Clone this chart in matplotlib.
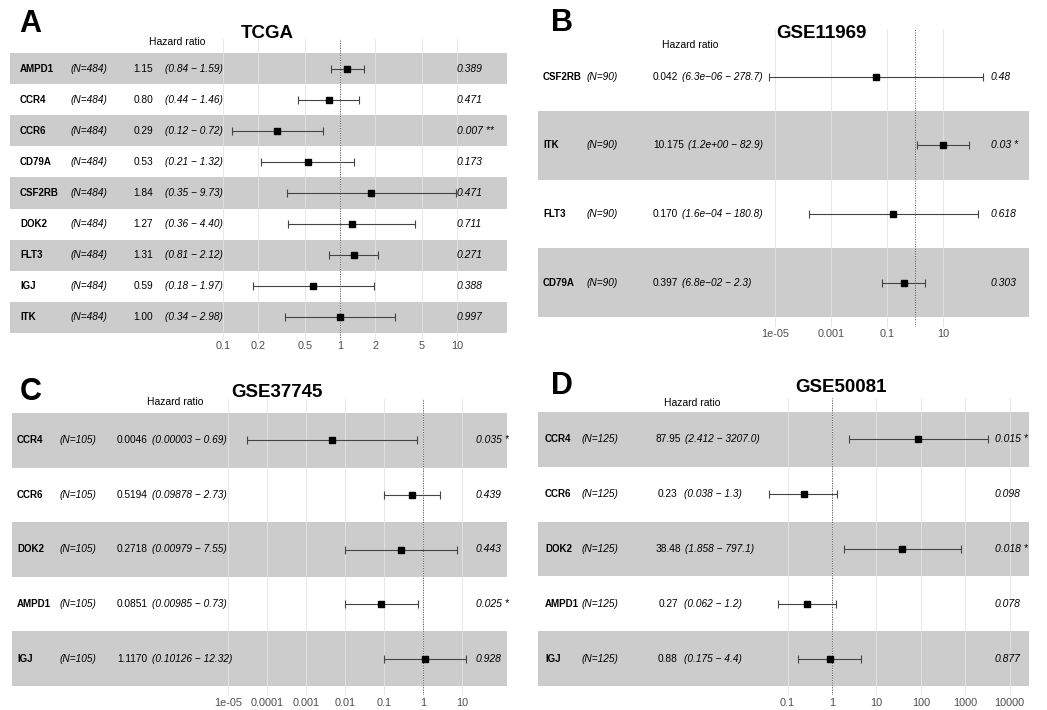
import numpy as np
import matplotlib
matplotlib.use('Agg')
import matplotlib.pyplot as plt
from matplotlib import transforms
from matplotlib.ticker import NullLocator

plt.rcParams['font.family'] = ['Liberation Sans', 'DejaVu Sans']
NARROW = ['Liberation Sans Narrow', 'Liberation Sans', 'DejaVu Sans']

# ---- data ----
# A: TCGA
tcga_genes = ['AMPD1', 'CCR4', 'CCR6', 'CD79A', 'CSF2RB', 'DOK2', 'FLT3', 'IGJ', 'ITK']
tcga_n = 484
tcga_hr = [1.15, 0.80, 0.29, 0.53, 1.84, 1.27, 1.31, 0.59, 1.00]
tcga_lo = [0.84, 0.44, 0.12, 0.21, 0.35, 0.36, 0.81, 0.18, 0.34]
tcga_hi = [1.59, 1.46, 0.72, 1.32, 9.73, 4.40, 2.12, 1.97, 2.98]
tcga_p = [0.389, 0.471, 0.007, 0.173, 0.471, 0.711, 0.271, 0.388, 0.997]
tcga_breaks = [0.1, 0.2, 0.5, 1, 2, 5, 10]
tcga_ticklabels = ['0.1', '0.2', '0.5', '1', '2', '5', '10']

# B: GSE11969
g11969_genes = ['CSF2RB', 'ITK', 'FLT3', 'CD79A']
g11969_n = 90
g11969_hr = [0.042, 10.175, 0.170, 0.397]
g11969_lo = [6.3e-06, 1.2e+00, 1.6e-04, 6.8e-02]
g11969_hi = [278.7, 82.9, 180.8, 2.3]
g11969_p = [0.48, 0.03, 0.618, 0.303]
g11969_breaks = [1e-05, 0.001, 0.1, 10]
g11969_ticklabels = ['1e-05', '0.001', '0.1', '10']

# C: GSE37745
g37745_genes = ['CCR4', 'CCR6', 'DOK2', 'AMPD1', 'IGJ']
g37745_n = 105
g37745_hr = [0.0046, 0.5194, 0.2718, 0.0851, 1.1170]
g37745_lo = [0.00003, 0.09878, 0.00979, 0.00985, 0.10126]
g37745_hi = [0.69, 2.73, 7.55, 0.73, 12.32]
g37745_p = [0.035, 0.439, 0.443, 0.025, 0.928]
g37745_breaks = [1e-05, 0.0001, 0.001, 0.01, 0.1, 1, 10]
g37745_ticklabels = ['1e-05', '0.0001', '0.001', '0.01', '0.1', '1', '10']

# D: GSE50081
g50081_genes = ['CCR4', 'CCR6', 'DOK2', 'AMPD1', 'IGJ']
g50081_n = 125
g50081_hr = [87.95, 0.23, 38.48, 0.27, 0.88]
g50081_lo = [2.412, 0.038, 1.858, 0.062, 0.175]
g50081_hi = [3207.0, 1.3, 797.1, 1.2, 4.4]
g50081_p = [0.015, 0.098, 0.018, 0.078, 0.877]
g50081_breaks = [0.1, 1, 10, 100, 1000, 10000]
g50081_ticklabels = ['0.1', '1', '10', '100', '1000', '10000']

W, H = 1047, 710
fig = plt.figure(figsize=(W / 100, H / 100), dpi=100)
renderer = fig.canvas.get_renderer()


def stars(p):
    if p < 0.001:
        return ' ***'
    if p < 0.01:
        return ' **'
    if p < 0.05:
        return ' *'
    return ''


def fmt_sci(v):
    return ('%.1e' % v).replace('-', '\u2212')


def forest(letter, title, genes, n, hr, lo, hi, p, breaks, ticklabels,
           hr_fmt, lo_fmt, hi_fmt, lay):
    bl, br, x1, ppd = lay['band_x']
    rt, rb, gt, gb = lay['rows_y']
    ax = fig.add_axes([bl / W, 1 - gb / H, (br - bl) / W, (gb - gt) / H])
    nrow = len(genes)
    h = (rb - rt) / nrow
    ax.set_xscale('log')
    ax.set_xlim(10 ** ((bl - x1) / ppd), 10 ** ((br - x1) / ppd))
    ax.set_ylim(nrow - 0.5 + (gb - rb) / h, -0.5 - (rt - gt) / h)
    for s in ax.spines.values():
        s.set_visible(False)
    ax.set_yticks([])
    ax.xaxis.set_minor_locator(NullLocator())
    ax.set_xticks(breaks, ticklabels)
    ax.tick_params(axis='x', length=0, labelsize=7.8, labelcolor='#4D4D4D',
                   pad=(lay['tick_y'] - gb - 5) * 0.72)
    ax.set_axisbelow(False)
    ax.grid(axis='x', color='#E3E3E3', lw=0.6, zorder=1.5)
    ax.patch.set_alpha(0)

    y = np.arange(nrow)
    for i in y:
        if (nrow - 1 - i) % 2 == 0:
            ax.axhspan(i - 0.5, i + 0.5, color='black', alpha=0.2, lw=0, zorder=1)
    ax.axvline(1, color='#555555', ls=(0, (1, 1.5)), lw=0.7, zorder=3)

    hr = np.array(hr)
    lo = np.array(lo)
    hi = np.array(hi)
    ax.errorbar(hr, y, xerr=[hr - lo, hi - hr], fmt='s', color='black',
                ecolor='#444444', elinewidth=0.8, capsize=2.6, capthick=0.8,
                markersize=4, zorder=4)

    tr = transforms.blended_transform_factory(ax.transAxes, ax.transData)

    def fx(px):
        return (px - bl) / (br - bl)

    gx, nx, hx, cx, px_ = lay['text_x']
    fs = 7.3
    for i, g in enumerate(genes):
        ax.text(fx(gx), i, g, transform=tr, fontsize=7, fontweight='bold',
                ha='left', va='center')
        ax.text(fx(nx), i, '(N=%d)' % n, transform=tr, fontsize=fs,
                style='italic', ha='left', va='center')
        t = ax.text(fx(hx), i, hr_fmt(hr[i]), transform=tr, fontsize=fs,
                    ha=lay['hr_ha'], va='center')
        # CI starts at its column, or just after a long estimate
        hr_right = t.get_window_extent(renderer).x1
        ci_px = max(cx, hr_right + 4)
        ci = '(%s \u2212 %s)' % (lo_fmt(lo[i]), hi_fmt(hi[i]))
        ax.text(fx(ci_px), i, ci, transform=tr, fontsize=fs, style='italic',
                ha='left', va='center')
        ax.text(fx(px_), i, format(p[i], '.3g') + stars(p[i]), transform=tr,
                fontsize=7.5, style='italic', ha='left', va='center')

    hx_, hy_ = lay['hr_label']
    fig.text(hx_ / W, 1 - hy_ / H, 'Hazard ratio', fontsize=7.5,
             ha='center', va='center')
    tx, ty = lay['title']
    fig.text(tx / W, 1 - ty / H, title, fontsize=13.5, fontweight='bold',
             family=NARROW, ha='center', va='center')
    lx, ly = lay['letter']
    fig.text(lx / W, 1 - ly / H, letter, fontsize=22, fontweight='bold',
             family=NARROW, ha='left', va='center')


forest('A', 'TCGA', tcga_genes, tcga_n, tcga_hr, tcga_lo, tcga_hi, tcga_p,
       tcga_breaks, tcga_ticklabels,
       lambda v: '%.2f' % v, lambda v: '%.2f' % v, lambda v: '%.2f' % v,
       dict(band_x=(10, 507, 340, 117), rows_y=(53, 333, 39, 340), tick_y=346,
            text_x=(20, 71, 143, 165, 457), hr_ha='center', hr_label=(177, 42),
            title=(267, 33), letter=(19, 24)))

forest('B', 'GSE11969', g11969_genes, g11969_n, g11969_hr, g11969_lo,
       g11969_hi, g11969_p, g11969_breaks, g11969_ticklabels,
       lambda v: '%.3f' % v, fmt_sci, lambda v: '%.1f' % v,
       dict(band_x=(538, 1029, 915, 28), rows_y=(42.5, 317, 29, 327), tick_y=334,
            text_x=(543, 587, 653, 674, 991), hr_ha='left', hr_label=(690, 45),
            title=(821, 33), letter=(551, 23)))

forest('C', 'GSE37745', g37745_genes, g37745_n, g37745_hr, g37745_lo,
       g37745_hi, g37745_p, g37745_breaks, g37745_ticklabels,
       lambda v: '%.4f' % v, lambda v: '%.5f' % v, lambda v: '%.2f' % v,
       dict(band_x=(12, 507, 423, 39), rows_y=(413, 686, 399, 695), tick_y=703,
            text_x=(17, 60, 132, 152, 476), hr_ha='center', hr_label=(175, 402),
            title=(277, 392), letter=(20, 392)))

forest('D', 'GSE50081', g50081_genes, g50081_n, g50081_hr, g50081_lo,
       g50081_hi, g50081_p, g50081_breaks, g50081_ticklabels,
       lambda v: '%.2f' % v, lambda v: '%.3f' % v, lambda v: '%.1f' % v,
       dict(band_x=(538, 1029, 832, 44.4), rows_y=(412, 686, 398, 695), tick_y=703,
            text_x=(545, 582, 668, 684, 995), hr_ha='center', hr_label=(692, 403),
            title=(841, 387), letter=(551, 386)))

fig.savefig('out.png', dpi=100)
